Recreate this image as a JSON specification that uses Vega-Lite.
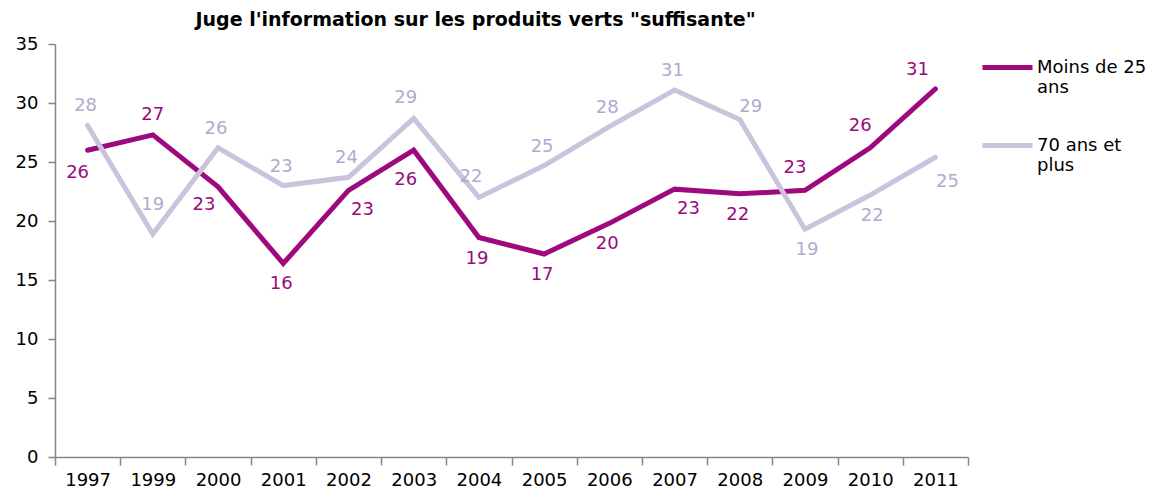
{
  "$schema": "https://vega.github.io/schema/vega-lite/v6.json",
  "autosize": {"type": "none"},
  "width": 913,
  "height": 413,
  "padding": {"left": 55, "top": 44, "right": 192, "bottom": 36},
  "background": "white",
  "config": {
    "font": "DejaVu Sans",
    "view": {"stroke": null},
    "axis": {"domainColor": "#868686", "tickColor": "#868686", "labelColor": "#000000", "labelFontSize": 18, "grid": false, "title": null, "domainWidth": 1.5, "tickWidth": 1.5}
  },
  "title": {
    "text": "Juge l'information sur les produits verts \"suffisante\"",
    "fontSize": 19,
    "fontWeight": "bold",
    "color": "#000000",
    "anchor": "middle",
    "dx": -36,
    "offset": 5
  },
  "data": {
    "values": [
      {"year": "1997", "serie": "Moins de 25 ans", "value": 26.0},
      {"year": "1999", "serie": "Moins de 25 ans", "value": 27.3},
      {"year": "2000", "serie": "Moins de 25 ans", "value": 22.9},
      {"year": "2001", "serie": "Moins de 25 ans", "value": 16.4},
      {"year": "2002", "serie": "Moins de 25 ans", "value": 22.6},
      {"year": "2003", "serie": "Moins de 25 ans", "value": 26.0},
      {"year": "2004", "serie": "Moins de 25 ans", "value": 18.6},
      {"year": "2005", "serie": "Moins de 25 ans", "value": 17.2},
      {"year": "2006", "serie": "Moins de 25 ans", "value": 19.8},
      {"year": "2007", "serie": "Moins de 25 ans", "value": 22.7},
      {"year": "2008", "serie": "Moins de 25 ans", "value": 22.3},
      {"year": "2009", "serie": "Moins de 25 ans", "value": 22.6},
      {"year": "2010", "serie": "Moins de 25 ans", "value": 26.2},
      {"year": "2011", "serie": "Moins de 25 ans", "value": 31.2},
      {"year": "1997", "serie": "70 ans et plus", "value": 28.1},
      {"year": "1999", "serie": "70 ans et plus", "value": 18.9},
      {"year": "2000", "serie": "70 ans et plus", "value": 26.2},
      {"year": "2001", "serie": "70 ans et plus", "value": 23.0},
      {"year": "2002", "serie": "70 ans et plus", "value": 23.7},
      {"year": "2003", "serie": "70 ans et plus", "value": 28.7},
      {"year": "2004", "serie": "70 ans et plus", "value": 22.0},
      {"year": "2005", "serie": "70 ans et plus", "value": 24.7},
      {"year": "2006", "serie": "70 ans et plus", "value": 28.0},
      {"year": "2007", "serie": "70 ans et plus", "value": 31.1},
      {"year": "2008", "serie": "70 ans et plus", "value": 28.6},
      {"year": "2009", "serie": "70 ans et plus", "value": 19.3},
      {"year": "2010", "serie": "70 ans et plus", "value": 22.2},
      {"year": "2011", "serie": "70 ans et plus", "value": 25.4}
    ]
  },
  "encoding": {
    "x": {
      "field": "year", "type": "ordinal",
      "scale": {"type": "band", "paddingInner": 0, "paddingOuter": 0},
      "axis": {"labelAngle": 0, "tickBand": "extent", "tickSize": 8, "labelPadding": 6}
    },
    "y": {
      "field": "value", "type": "quantitative",
      "scale": {"domain": [0, 35], "nice": false},
      "axis": {"values": [0, 5, 10, 15, 20, 25, 30, 35], "tickSize": 7, "labelPadding": 10}
    }
  },
  "layer": [
    {
      "mark": {"type": "line", "strokeWidth": 5, "strokeCap": "round"},
      "encoding": {
        "color": {
          "field": "serie", "type": "nominal",
          "scale": {"domain": ["Moins de 25 ans", "70 ans et plus"], "range": ["#9E0A7E", "#CBC2DC"]},
          "sort": ["Moins de 25 ans", "70 ans et plus"],
          "legend": {
            "title": null,
            "orient": "none",
            "legendX": 925,
            "legendY": -4,
            "symbolType": "stroke",
            "symbolSize": 2500,
            "symbolStrokeWidth": 5,
            "labelFontSize": 18,
            "labelColor": "#000000",
            "labelLimit": 200,
            "labelOffset": 2,
            "rowPadding": 21,
            "labelExpr": "datum.label == 'Moins de 25 ans' ? ['Moins de 25', 'ans'] : ['70 ans et', 'plus']"
          }
        }
      }
    },
    {
      "transform": [{"filter": {"and": [{"field": "serie", "equal": "Moins de 25 ans"}, {"field": "year", "oneOf": ["1999"]}]}}],
      "mark": {"type": "text", "fontSize": 18, "color": "#9A0A7C", "dy": -20, "baseline": "middle"},
      "encoding": {"text": {"field": "value", "type": "quantitative", "format": ".0f"}}
    },
    {
      "transform": [{"filter": {"and": [{"field": "serie", "equal": "Moins de 25 ans"}, {"field": "year", "oneOf": ["2009", "2010"]}]}}],
      "mark": {"type": "text", "fontSize": 18, "color": "#9A0A7C", "dy": -22, "dx": -10, "baseline": "middle"},
      "encoding": {"text": {"field": "value", "type": "quantitative", "format": ".0f"}}
    },
    {
      "transform": [{"filter": {"and": [{"field": "serie", "equal": "Moins de 25 ans"}, {"field": "year", "oneOf": ["2011"]}]}}],
      "mark": {"type": "text", "fontSize": 18, "color": "#9A0A7C", "dy": -19, "dx": -18, "baseline": "middle"},
      "encoding": {"text": {"field": "value", "type": "quantitative", "format": ".0f"}}
    },
    {
      "transform": [{"filter": {"and": [{"field": "serie", "equal": "Moins de 25 ans"}, {"field": "year", "oneOf": ["2001", "2004", "2005", "2006", "2008"]}]}}],
      "mark": {"type": "text", "fontSize": 18, "color": "#9A0A7C", "dy": 21, "dx": -2, "baseline": "middle"},
      "encoding": {"text": {"field": "value", "type": "quantitative", "format": ".0f"}}
    },
    {
      "transform": [{"filter": {"and": [{"field": "serie", "equal": "Moins de 25 ans"}, {"field": "year", "oneOf": ["2000"]}]}}],
      "mark": {"type": "text", "fontSize": 18, "color": "#9A0A7C", "dy": 18, "dx": -14, "baseline": "middle"},
      "encoding": {"text": {"field": "value", "type": "quantitative", "format": ".0f"}}
    },
    {
      "transform": [{"filter": {"and": [{"field": "serie", "equal": "Moins de 25 ans"}, {"field": "year", "oneOf": ["1997"]}]}}],
      "mark": {"type": "text", "fontSize": 18, "color": "#9A0A7C", "dy": 23, "dx": -10, "baseline": "middle"},
      "encoding": {"text": {"field": "value", "type": "quantitative", "format": ".0f"}}
    },
    {
      "transform": [{"filter": {"and": [{"field": "serie", "equal": "Moins de 25 ans"}, {"field": "year", "oneOf": ["2003"]}]}}],
      "mark": {"type": "text", "fontSize": 18, "color": "#9A0A7C", "dy": 30, "dx": -8, "baseline": "middle"},
      "encoding": {"text": {"field": "value", "type": "quantitative", "format": ".0f"}}
    },
    {
      "transform": [{"filter": {"and": [{"field": "serie", "equal": "Moins de 25 ans"}, {"field": "year", "oneOf": ["2002", "2007"]}]}}],
      "mark": {"type": "text", "fontSize": 18, "color": "#9A0A7C", "dy": 20, "dx": 14, "baseline": "middle"},
      "encoding": {"text": {"field": "value", "type": "quantitative", "format": ".0f"}}
    },
    {
      "transform": [{"filter": {"and": [{"field": "serie", "equal": "70 ans et plus"}, {"field": "year", "oneOf": ["1997", "2000", "2001", "2002", "2005", "2006", "2007"]}]}}],
      "mark": {"type": "text", "fontSize": 18, "color": "#B5A8CF", "dy": -19, "dx": -2, "baseline": "middle"},
      "encoding": {"text": {"field": "value", "type": "quantitative", "format": ".0f"}}
    },
    {
      "transform": [{"filter": {"and": [{"field": "serie", "equal": "70 ans et plus"}, {"field": "year", "oneOf": ["1999"]}]}}],
      "mark": {"type": "text", "fontSize": 18, "color": "#B5A8CF", "dy": -29, "baseline": "middle"},
      "encoding": {"text": {"field": "value", "type": "quantitative", "format": ".0f"}}
    },
    {
      "transform": [{"filter": {"and": [{"field": "serie", "equal": "70 ans et plus"}, {"field": "year", "oneOf": ["2003", "2004"]}]}}],
      "mark": {"type": "text", "fontSize": 18, "color": "#B5A8CF", "dy": -20, "dx": -8, "baseline": "middle"},
      "encoding": {"text": {"field": "value", "type": "quantitative", "format": ".0f"}}
    },
    {
      "transform": [{"filter": {"and": [{"field": "serie", "equal": "70 ans et plus"}, {"field": "year", "oneOf": ["2008"]}]}}],
      "mark": {"type": "text", "fontSize": 18, "color": "#B5A8CF", "dy": -13, "dx": 11, "baseline": "middle"},
      "encoding": {"text": {"field": "value", "type": "quantitative", "format": ".0f"}}
    },
    {
      "transform": [{"filter": {"and": [{"field": "serie", "equal": "70 ans et plus"}, {"field": "year", "oneOf": ["2009", "2010"]}]}}],
      "mark": {"type": "text", "fontSize": 18, "color": "#B5A8CF", "dy": 21, "dx": 2, "baseline": "middle"},
      "encoding": {"text": {"field": "value", "type": "quantitative", "format": ".0f"}}
    },
    {
      "transform": [{"filter": {"and": [{"field": "serie", "equal": "70 ans et plus"}, {"field": "year", "oneOf": ["2011"]}]}}],
      "mark": {"type": "text", "fontSize": 18, "color": "#B5A8CF", "dy": 25, "dx": 12, "baseline": "middle"},
      "encoding": {"text": {"field": "value", "type": "quantitative", "format": ".0f"}}
    }
  ]
}
